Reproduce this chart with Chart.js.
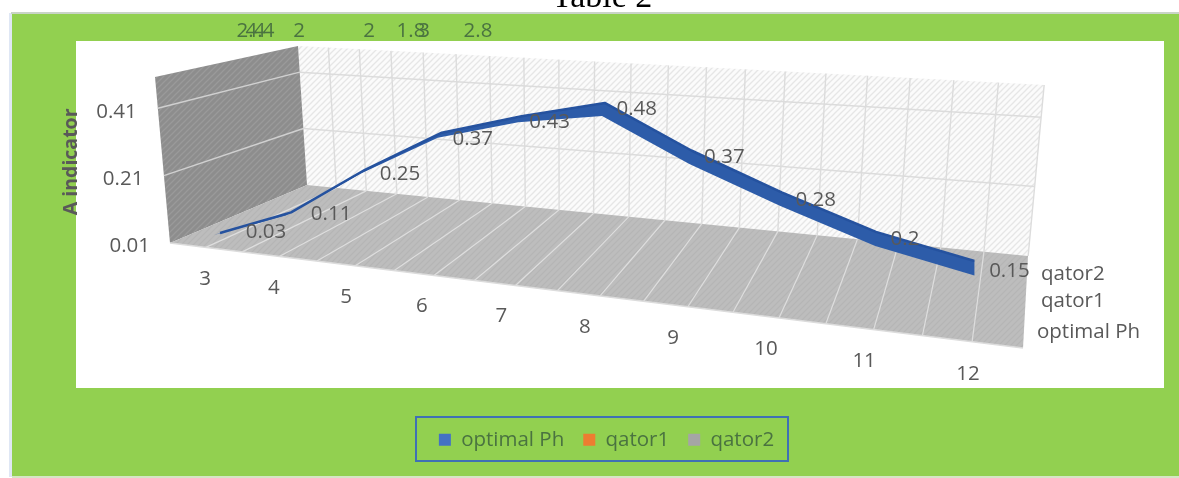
<!DOCTYPE html>
<html><head><meta charset="utf-8">
<style>html,body{margin:0;padding:0;background:#fff}canvas{display:block}</style>
<script src="https://cdn.jsdelivr.net/npm/chart.js@4"></script>
</head><body><canvas id="c" width="1179" height="478"></canvas>
<script>
const categories = ["3","4","5","6","7","8","9","10","11","12"];
const optimalPh = [0.03,0.11,0.25,0.37,0.43,0.48,0.37,0.28,0.2,0.15];
const qator1 = [2.4,4.4,1.8,2.8];
const qator2 = [2,2,3,5];
const yTicks = [0.01,0.21,0.41];
const seriesNames = ["optimal Ph","qator1","qator2"];
const axisTitle = "A indicator";
const chartTitle = "Table 2";

const FONT = '"Open Sans"';
const TXT = '#595959', ONGREEN = '#4a7340';
const P = {LT:[155,77],BT:[298,46],BB:[307,185],LB:[170,243],RT:[1044,85],RB:[1028,256],FR:[1023,348]};
const lerp=(a,b,t)=>[a[0]+(b[0]-a[0])*t,a[1]+(b[1]-a[1])*t];
const wallT=v=>(v-0.01)*2.03;
function hatch(base,stripe,lw){
  const c=document.createElement('canvas');c.width=c.height=6;const g=c.getContext('2d');
  g.fillStyle=base;g.fillRect(0,0,6,6);g.strokeStyle=stripe;g.lineWidth=lw;
  [[-3,3,3,-3],[0,6,6,0],[3,9,9,3]].forEach(l=>{g.beginPath();g.moveTo(l[0],l[1]);g.lineTo(l[2],l[3]);g.stroke();});
  return c;
}
function poly(ctx,pts,fill){ctx.beginPath();pts.forEach((p,i)=>i?ctx.lineTo(p[0],p[1]):ctx.moveTo(p[0],p[1]));ctx.closePath();ctx.fillStyle=fill;ctx.fill();}
function seg(ctx,a,b,col,w){ctx.beginPath();ctx.moveTo(a[0],a[1]);ctx.lineTo(b[0],b[1]);ctx.strokeStyle=col;ctx.lineWidth=w;ctx.stroke();}
// perspective of the front series plane
const G=-0.0186;
const project=(u,v)=>{const w=1+G*u;return [(220+65.7*u)/w,(243.2+2.81*u-341.5*v)/w];};
const ribbonDrop=u=>[-6*(1-u/9), u<=4?2+u:13+(u-5)*0.4];
const labelShift=[[46,-1],[40,2],[35,4],[31,6],[28,6],[32,6.5],[33,7],[34,8],[29,7],[35,10]];
const topLabels=[[qator1,0,251],[qator1,1,260],[qator2,0,299],[qator2,1,369],[qator1,2,411],[qator2,2,424],[qator1,3,478]];

const scene={
  id:'scene',
  afterDatasetsUpdate(chart){
    const xs=chart.scales.x,ys=chart.scales.y,m=chart.getDatasetMeta(0);
    m.data.forEach((p,i)=>{
      const u=(p.x-xs.getPixelForValue(0))/(xs.getPixelForValue(1)-xs.getPixelForValue(0));
      const q=project(u,ys.getValueForPixel(p.y));p.x=q[0];p.y=q[1];
    });
  },
  afterLayout(chart){
    const t=chart.titleBlock,l=chart.legend;
    const dy=-22-t.top,tc=602-(t.left+t.right)/2;t.top+=dy;t.bottom+=dy;t.left+=tc;t.right+=tc;
    const ld=410.5-l.top,lc=606.5-(l.left+l.right)/2;l.top+=ld;l.bottom+=ld;l.left+=lc;l.right+=lc;
  },
  beforeDraw(chart){
    const ctx=chart.ctx,xs=chart.scales.x,ys=chart.scales.y;
    ctx.save();
    ctx.fillStyle='#fff';ctx.fillRect(0,0,1179,478);
    ctx.fillStyle='#dfe7f5';ctx.fillRect(9,13,3,464);
    ctx.fillStyle='#c9d4c6';ctx.fillRect(11,12,1168,2);
    ctx.fillStyle='#92d050';ctx.fillRect(12,14,1167,462);
    ctx.fillStyle='#d5e6c5';ctx.fillRect(12,476,1167,2);
    ctx.fillStyle='#fff';ctx.fillRect(76,41,1088,347);
    // walls and floor
    poly(ctx,[P.BT,P.RT,P.RB,P.BB],ctx.createPattern(hatch('#fbfbfb','#e6e6e6',1.3),'repeat'));
    poly(ctx,[P.LT,P.BT,P.BB,P.LB],ctx.createPattern(hatch('#8d8d8d','#9a9a9a',1.3),'repeat'));
    poly(ctx,[P.LB,P.BB,P.RB,P.FR],ctx.createPattern(hatch('#bdbdbd','#b5b5b5',1.2),'repeat'));
    // grid from the value scale
    ys.ticks.forEach(t=>{
      if(t.value<0.05)return;const k=wallT(t.value);
      seg(ctx,lerp(P.LB,P.LT,k),lerp(P.BB,P.BT,k),'#d0d0d0',1.5);
      seg(ctx,lerp(P.BB,P.BT,k),lerp(P.RB,P.RT,k),'#dcdcdc',1.5);
    });
    // grid from the category scale (two divisions per category)
    const n=xs.ticks.length*2;
    for(let i=1;i<=n;i++){
      const top=(298+27.19*i)/(1-0.00969*i);
      const bx=307+(top-298)*(721/746);
      const tp=[top,46+(top-298)*(39/746)],bp=[bx,185+(bx-307)*(71/721)];
      seg(ctx,tp,bp,'#dcdcdc',1.4);
      if(i<n){
        const fx=(170+34.07*i)/(1-0.00838*i);
        seg(ctx,bp,[fx,243+(fx-170)*(105/853)],'#dedede',1.2);
      }
    }
    seg(ctx,P.LB,P.FR,'#dcdcdc',1.5);
    // legend frame
    ctx.strokeStyle='#3f70b5';ctx.lineWidth=2;ctx.strokeRect(416,417,372,44);
    ctx.restore();
    // axis labels follow the tilted floor and wall edges
    xs.top=200;xs.bottom=478;ys.right=300;
    xs.getLabelItems().forEach((it,u)=>{
      const X=(205+62.6*u)/(1-0.0229*u);
      it.options.translation=[X,279.5+(X-205)*0.1245];
      it.options.textAlign='center';it.options.textBaseline='middle';it.textOffset=0;
    });
    ys.getLabelItems().forEach((it,i)=>{
      const v=ys.ticks[i].value;
      it.options.translation=[150-(v-0.01)*33,246-(v-0.01)*335];
      it.options.textAlign='right';it.options.textBaseline='middle';it.textOffset=0;
    });
  },
  beforeDatasetsDraw(chart){
    const ctx=chart.ctx,pts=chart.getDatasetMeta(0).data;
    const up=pts.map(p=>[p.x,p.y]);
    const lo=pts.map((p,u)=>{const d=ribbonDrop(u);return [p.x+d[0],p.y+d[1]];}).reverse();
    poly(ctx,up.concat(lo),'#2d5ca9');
  },
  afterDatasetsDraw(chart){
    const ctx=chart.ctx,pts=chart.getDatasetMeta(0).data;
    ctx.save();ctx.font='20.5px '+FONT;ctx.textAlign='center';ctx.textBaseline='middle';ctx.fillStyle=TXT;
    pts.forEach((p,i)=>ctx.fillText(String(optimalPh[i]),p.x+labelShift[i][0],p.y+labelShift[i][1]));
    ctx.fillStyle=ONGREEN;
    topLabels.forEach(t=>ctx.fillText(String(t[0][t[1]]),t[2],31));
    ctx.fillStyle=TXT;ctx.textAlign='left';
    ctx.fillText(seriesNames[2],1041,274);
    ctx.fillText(seriesNames[1],1041,301);
    ctx.fillText(seriesNames[0],1037,332);
    ctx.restore();
  }
};

new Chart(document.getElementById('c'),{
  type:'line',
  data:{labels:categories,datasets:[
    {label:seriesNames[0],data:optimalPh,borderColor:'#25529f',backgroundColor:'#4472c4',borderWidth:2.5,pointRadius:0,clip:false,borderJoinStyle:'round',tension:0},
    {label:seriesNames[1],data:qator1,borderColor:'#ed7d31',backgroundColor:'#ed7d31',borderWidth:0,showLine:false,pointRadius:0},
    {label:seriesNames[2],data:qator2,borderColor:'#a5a5a5',backgroundColor:'#a5a5a5',borderWidth:0,showLine:false,pointRadius:0}
  ]},
  options:{
    responsive:false,animation:false,devicePixelRatio:1,
    layout:{padding:{left:56,top:0,right:0,bottom:107}},
    plugins:{
      title:{display:true,text:chartTitle,color:'#000',font:{family:'"Liberation Serif"',size:34,weight:'normal'},padding:0},
      legend:{position:'bottom',labels:{boxWidth:12,boxHeight:12,padding:19,color:ONGREEN,font:{family:FONT,size:20.5},
        generateLabels(c){return Chart.defaults.plugins.legend.labels.generateLabels(c).map(i=>({...i,strokeStyle:i.fillStyle,lineWidth:0}));}}},
      tooltip:{enabled:false}
    },
    scales:{
      x:{grid:{display:false},border:{display:false},ticks:{autoSkip:false,maxRotation:0,color:TXT,font:{family:FONT,size:20.5}}},
      y:{min:0,max:0.6,grid:{display:false},border:{display:false},
         afterBuildTicks(s){s.ticks=yTicks.map(v=>({value:v}));},
         ticks:{color:TXT,font:{family:FONT,size:20.5},callback:v=>Number(v).toFixed(2)},
         title:{display:true,text:axisTitle,color:TXT,font:{family:FONT,size:19.5,weight:'bold'}}}
    }
  },
  plugins:[scene]
});
</script></body></html>
